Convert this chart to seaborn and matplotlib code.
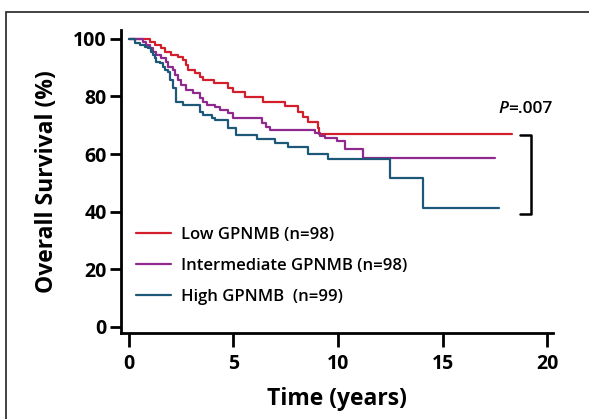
import pandas as pd
import seaborn as sns
import matplotlib.pyplot as plt
from matplotlib.patches import Rectangle

# Kaplan-Meier step points (years, % surviving)
low_t = [0, 1.0, 1.24, 1.56, 1.72, 2.04, 2.36, 2.6, 2.76, 2.84, 3.16, 3.4, 3.56, 4.1, 4.75,
         5.0, 5.55, 6.43, 7.47, 8.1, 8.34, 8.58, 9.03, 9.1, 18.3]
low_s = [100, 99.1, 97.9, 96.8, 95.6, 94.4, 93.8, 92.7, 91.0, 89.2, 88.1, 86.9, 85.8, 84.6, 82.9,
         81.7, 79.9, 78.2, 76.8, 74.7, 73.0, 71.0, 69.0, 67.0, 67.0]

mid_t = [0, 0.69, 0.85, 1.0, 1.16, 1.33, 1.56, 1.8, 1.88, 2.12, 2.2, 2.36, 2.52, 2.76, 3.08,
         3.4, 3.56, 3.72, 4.12, 4.36, 4.75, 5.0, 6.35, 6.54, 6.75, 8.9, 9.14, 9.38, 9.94,
         10.34, 11.2, 17.5]
mid_s = [100, 99.1, 97.9, 96.8, 95.6, 94.4, 93.3, 92.1, 90.4, 89.2, 87.5, 85.8, 84.0, 82.3, 81.1,
         79.4, 78.2, 77.1, 76.5, 75.3, 74.2, 72.6, 70.9, 69.5, 68.3, 67.2, 66.3, 65.5, 64.7,
         61.7, 58.5, 58.5]

high_t = [0, 0.29, 0.53, 0.77, 0.92, 1.09, 1.16, 1.24, 1.33, 1.48, 1.64, 1.72, 1.88, 1.96, 2.12,
          2.28, 2.6, 3.4, 3.56, 3.96, 4.12, 4.75, 5.15, 6.11, 6.99, 7.63, 8.58, 9.54, 12.5,
          14.06, 17.7]
high_s = [100, 98.5, 97.9, 97.3, 96.8, 95.6, 94.4, 93.3, 92.1, 91.6, 90.4, 89.2, 88.6, 85.8, 82.9,
          78.2, 77.1, 74.7, 73.6, 72.4, 71.8, 69.0, 66.6, 65.1, 63.7, 62.4, 60.0, 58.2, 51.6,
          41.2, 41.2]

groups = ["Low GPNMB (n=98)", "Intermediate GPNMB (n=98)", "High GPNMB  (n=99)"]
colors = ["#d21f2b", "#8e2a8d", "#1d5879"]
p_label = ".007"

df = pd.concat([
    pd.DataFrame({"time": t, "surv": s, "group": g})
    for t, s, g in zip([low_t, mid_t, high_t], [low_s, mid_s, high_s], groups)
])

sns.set_style("ticks")
plt.rcParams["font.family"] = ["Open Sans", "DejaVu Sans"]
plt.rcParams.update({"text.color": "black", "axes.labelcolor": "black",
                     "xtick.color": "black", "ytick.color": "black"})

fig = plt.figure(figsize=(5.89, 4.19), dpi=100)
ax = fig.add_axes([0.2049, 0.2045, 0.734, 0.7239])

sns.lineplot(data=df, x="time", y="surv", hue="group", hue_order=groups,
             palette=colors, estimator=None, sort=False, drawstyle="steps-post",
             linewidth=1.6, ax=ax)

ax.set_xlim(-0.38, 20.27)
ax.set_ylim(-2.3, 103.1)
ax.set_xticks([0, 5, 10, 15, 20])
ax.set_yticks([0, 20, 40, 60, 80, 100])
sns.despine(ax=ax)
for sp in ["left", "bottom"]:
    ax.spines[sp].set_linewidth(2)
    ax.spines[sp].set_color("black")
ax.tick_params(axis="y", length=8, width=2, labelsize=14, pad=2)
ax.tick_params(axis="x", length=10, width=2, labelsize=14, pad=5)
for lab in ax.get_xticklabels() + ax.get_yticklabels():
    lab.set_fontweight("bold")

ax.set_xlabel("Time (years)", fontsize=16.5, fontweight="bold", labelpad=9)
ax.set_ylabel("Overall Survival (%)", fontsize=16.5, fontweight="bold", labelpad=10)

ax.legend(loc="upper left", bbox_to_anchor=(0.0, 0.40), frameon=False,
          handlelength=2.1, handletextpad=0.6, labelspacing=0.9,
          prop={"size": 12, "weight": "semibold"})

# P value and bracket
t1 = ax.text(17.64, 75.5, "P", fontsize=12.5, fontstyle="italic", fontweight="semibold",
             va="center", ha="left")
ax.annotate("=" + p_label, xy=(1, 0.5), xycoords=t1, va="center", ha="left",
            fontsize=12.5, fontweight="semibold")
ax.plot([18.7, 19.23, 19.23, 18.7], [66.6, 66.6, 39.1, 39.1], color="black",
        lw=1.8, clip_on=False)

fig.patches.append(Rectangle((5.7 / 589, -0.1), 1.2, 1.1 - 12.3 / 419,
                             transform=fig.transFigure, fill=False,
                             edgecolor="#222222", lw=1.2))

fig.savefig("out.png", dpi=100)
